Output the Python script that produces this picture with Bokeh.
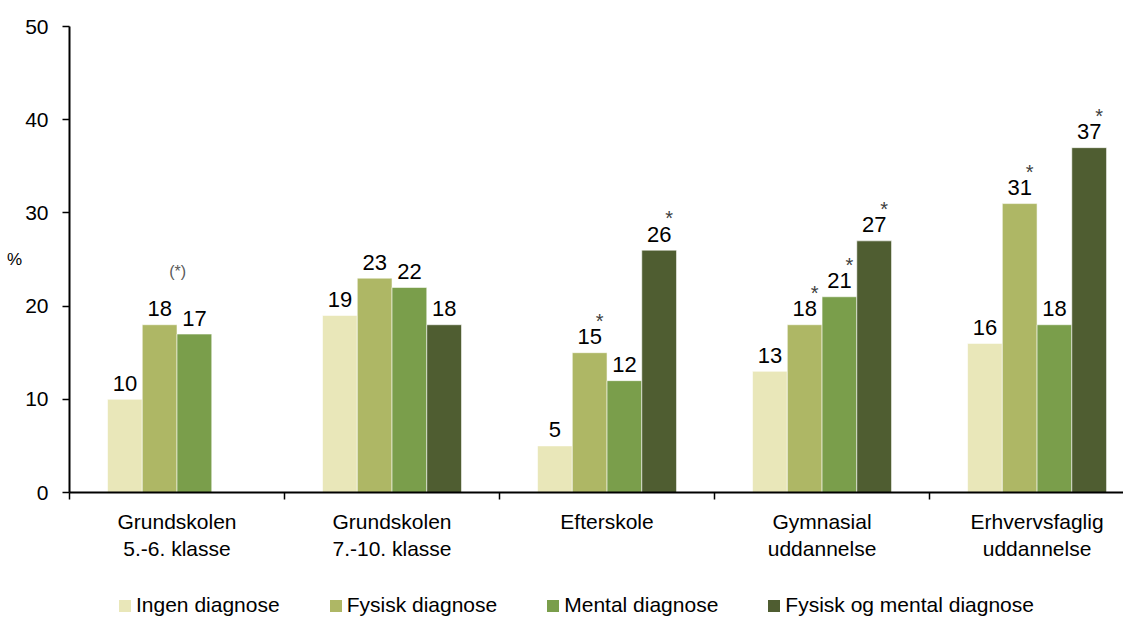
from bokeh.plotting import figure
from bokeh.models import (ColumnDataSource, Range1d, FixedTicker, Legend, LegendItem)
from bokeh.layouts import column
from bokeh.embed import file_html
from bokeh.resources import INLINE
from bokeh.core.properties import value

# ---- data ----
categories = ["Grundskolen\n5.-6. klasse", "Grundskolen\n7.-10. klasse", "Efterskole",
              "Gymnasial\nuddannelse", "Erhvervsfaglig\nuddannelse"]
series_names = ["Ingen diagnose", "Fysisk diagnose", "Mental diagnose", "Fysisk og mental diagnose"]
ingen = [10, 19, 5, 13, 16]
fysisk = [18, 23, 15, 18, 31]
mental = [17, 22, 12, 21, 18]
begge = [None, 18, 26, 27, 37]
# significance markers
sig_fysisk = ["(*)", "", "*", "*", "*"]
sig_mental = ["", "", "", "*", ""]
sig_begge = ["", "", "*", "*", "*"]
sig_ingen = ["", "", "", "", ""]
y_ticks = [0, 10, 20, 30, 40, 50]

colors = ["#E9E7B9", "#AEB765", "#7A9E4B", "#4F5D31"]
FONT = "Liberation Sans"

p = figure(width=1123, height=575, output_backend="svg", toolbar_location=None,
           x_range=Range1d(0, 4.902), y_range=Range1d(0, 50),
           min_border_left=69, min_border_top=26, min_border_right=0, min_border_bottom=83)
p.outline_line_color = None
p.xgrid.visible = False
p.ygrid.visible = False
p.background_fill_color = "white"

bar_w = 0.1616
offsets = [-1.5 * bar_w, -0.5 * bar_w, 0.5 * bar_w, 1.5 * bar_w]
all_series = [ingen, fysisk, mental, begge]
all_sig = [sig_ingen, sig_fysisk, sig_mental, sig_begge]

for k, (vals, sig, col, off) in enumerate(zip(all_series, all_sig, colors, offsets)):
    xs, ys, labs, sigs = [], [], [], []
    for i, v in enumerate(vals):
        if v is None:
            continue
        xs.append(i + 0.5 + off)
        ys.append(v)
        labs.append(str(v))
        sigs.append(sig[i])
    src = ColumnDataSource(dict(x=xs, top=ys, lab=labs, sig=sigs))
    p.vbar(x="x", top="top", width=bar_w, bottom=0, source=src,
           fill_color=col, line_color="white", line_width=0.8, line_alpha=0.7)
    p.text(x="x", y="top", text="lab", source=src, text_align="center",
           text_baseline="alphabetic", y_offset=-16, text_font=value(FONT),
           text_font_size="22px", text_color="black")
    star_src = ColumnDataSource(dict(x=[x for x, s in zip(xs, sigs) if s == "*"],
                                     y=[y for y, s in zip(ys, sigs) if s == "*"]))
    p.text(x="x", y="y", text=value("*"), source=star_src, text_align="center",
           text_baseline="alphabetic", x_offset=10, y_offset=-32, text_font=value(FONT),
           text_font_size="20px", text_color="#404040")
    par_src = ColumnDataSource(dict(x=[x for x, s in zip(xs, sigs) if s == "(*)"],
                                    y=[y for y, s in zip(ys, sigs) if s == "(*)"]))
    p.text(x="x", y="y", text=value("(*)"), source=par_src, text_align="center",
           text_baseline="middle", x_offset=18, y_offset=-53, text_font=value(FONT),
           text_font_size="16px", text_color="#595959")

# x axis
xa = p.xaxis[0]
xa.ticker = FixedTicker(ticks=[i + 0.5 for i in range(len(categories))],
                        minor_ticks=[0, 1, 2, 3, 4])
xa.major_label_overrides = {i + 0.5: c for i, c in enumerate(categories)}
xa.major_tick_out = 0
xa.major_tick_in = 0
xa.minor_tick_out = 7
xa.minor_tick_in = 0
xa.minor_tick_line_color = "black"
xa.minor_tick_line_width = 1.5
xa.axis_line_color = "black"
xa.axis_line_width = 2
xa.major_label_standoff = 10
xa.major_label_text_font = FONT
xa.major_label_text_font_size = "21px"
xa.major_label_text_color = "black"

ya = p.yaxis[0]
ya.ticker = FixedTicker(ticks=y_ticks)
ya.major_tick_out = 7
ya.major_tick_in = 0
ya.minor_tick_out = 0
ya.minor_tick_in = 0
ya.major_tick_line_color = "black"
ya.major_tick_line_width = 1.5
ya.axis_line_color = "black"
ya.axis_line_width = 2
ya.major_label_standoff = 14
ya.major_label_text_font = FONT
ya.major_label_text_font_size = "21px"
ya.major_label_text_color = "black"
ya.axis_label = "%"
ya.axis_label_orientation = "horizontal"
ya.axis_label_standoff = 0
ya.axis_label_text_font = FONT
ya.axis_label_text_font_size = "17px"
ya.axis_label_text_font_style = "normal"
ya.axis_label_text_color = "black"

# legend strip below the chart
lg = figure(width=1123, height=42, output_backend="svg", toolbar_location=None,
            x_range=Range1d(0, 1), y_range=Range1d(0, 1),
            x_axis_location=None, y_axis_location=None,
            min_border_left=0, min_border_right=0, min_border_top=0, min_border_bottom=0)
lg.outline_line_color = None
lg.xgrid.visible = False
lg.ygrid.visible = False
items = []
for n, col in zip(series_names, colors):
    # legend-only swatch with zero height (invisible in the strip itself)
    r = lg.vbar(x=[0.5], top=[0], bottom=[0], width=0.1, fill_color=col, line_color=None)
    items.append(LegendItem(label=n, renderers=[r]))
legend = Legend(items=items, orientation="horizontal", location=(48, 0), border_line_color=None,
                background_fill_alpha=0, label_text_font=FONT, label_text_font_size="21px",
                label_text_color="black",
                glyph_width=15, glyph_height=15, label_standoff=4, spacing=48,
                padding=0, margin=0)
lg.add_layout(legend, "center")

open("out.html", "w").write(file_html(column(p, lg), INLINE))
